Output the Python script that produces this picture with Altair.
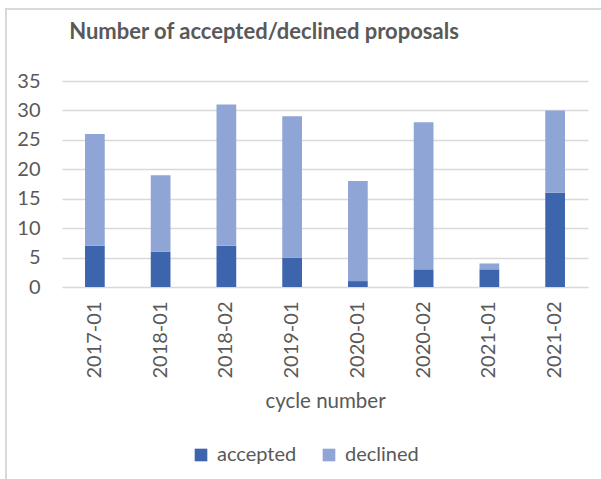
import altair as alt
import pandas as pd

cycles = ["2017-01", "2018-01", "2018-02", "2019-01", "2020-01", "2020-02", "2021-01", "2021-02"]
accepted = [7, 6, 7, 5, 1, 3, 3, 16]
declined = [19, 13, 24, 24, 17, 25, 1, 14]
series = ["accepted", "declined"]
colors = ["#3D65AD", "#8FA5D6"]

rows = []
for c, a, d in zip(cycles, accepted, declined):
    rows.append({"cycle": c, "status": "accepted", "count": a, "order": 0})
    rows.append({"cycle": c, "status": "declined", "count": d, "order": 1})
df = pd.DataFrame(rows)

FONT = "Lato"
GRAY = "#595959"
BORDER = "#D9D9D9"

bars = alt.Chart(df).mark_bar().encode(
    x=alt.X("cycle:N", sort=cycles,
            scale=alt.Scale(paddingInner=0.7, paddingOuter=0.35),
            axis=alt.Axis(title="cycle number", labelAngle=-90, labelFont=FONT, labelFontSize=20,
                          labelColor=GRAY, titleFont=FONT, titleFontSize=20.5, titleColor=GRAY,
                          titleFontWeight="normal", ticks=False, domainColor=BORDER,
                          labelPadding=14, titlePadding=13, labelAlign="right", labelBaseline="middle")),
    y=alt.Y("count:Q", stack="zero",
            scale=alt.Scale(domain=[0, 35]),
            axis=alt.Axis(title=None, values=[0, 5, 10, 15, 20, 25, 30, 35], labelFont=FONT,
                          labelFontSize=20, labelColor=GRAY, ticks=False, domain=False,
                          gridColor=BORDER, gridWidth=1.5, labelPadding=22)),
    color=alt.Color("status:N", scale=alt.Scale(domain=series, range=colors),
                    legend=alt.Legend(title=None, orient="none", direction="horizontal",
                                      legendX=129, legendY=364, symbolType="square", symbolSize=160,
                                      symbolStrokeWidth=0, labelFont=FONT, labelFontSize=20,
                                      labelColor=GRAY, labelOffset=6, columnPadding=22)),
    order=alt.Order("order:Q"),
)

frame = alt.Chart(alt.Data(values=[{}]))
left_border = frame.mark_rule(color=BORDER, strokeWidth=2).encode(
    x=alt.value(-56), y=alt.value(-72), y2=alt.value(400))
top_border = frame.mark_rule(color=BORDER, strokeWidth=2).encode(
    y=alt.value(-72), x=alt.value(-57), x2=alt.value(545))

chart = alt.layer(bars, left_border, top_border).properties(
    width=526,
    height=206,
    title=alt.TitleParams("Number of accepted/declined proposals", font=FONT, fontSize=22,
                          fontWeight="bold", color=GRAY, anchor="middle", dx=-61, offset=-36),
).configure_view(stroke=None).properties(
    autosize=alt.AutoSizeParams(type="none"),
    padding={"left": 62, "top": 81, "right": 13, "bottom": 192},
    background="white",
)

chart.save("out.html", embed_options={"renderer": "svg", "actions": False})
